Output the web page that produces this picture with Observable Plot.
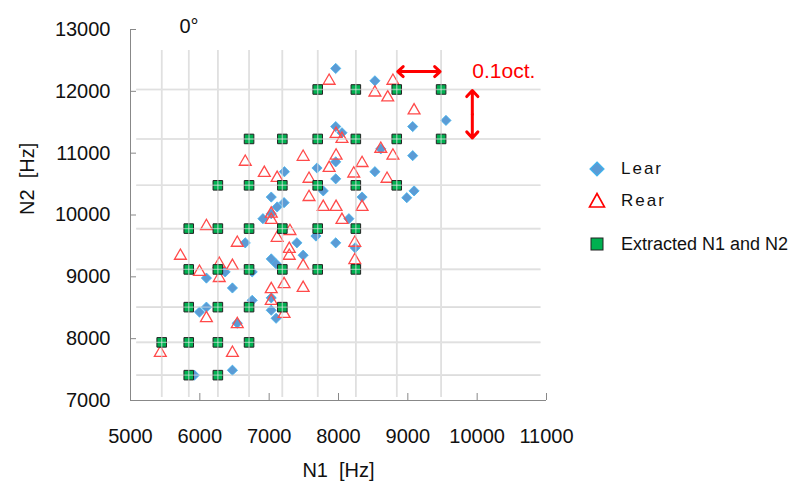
<!DOCTYPE html>
<html><head><meta charset="utf-8">
<script src="https://cdn.jsdelivr.net/npm/d3@7"></script>
<script src="https://cdn.jsdelivr.net/npm/@observablehq/plot@0.6"></script>
<style>
body{margin:0;background:#fff;}
#wrap{position:relative;width:790px;height:489px;font-family:"Liberation Sans",Arial,sans-serif;color:#111;}
.lg{position:absolute;left:589px;display:flex;align-items:center;white-space:nowrap;}
.lg svg{overflow:visible;margin-right:16px;}
</style></head><body><div id="wrap"></div>
<script>
// ---- data ----
const xTicks = [5000, 6000, 7000, 8000, 9000, 10000, 11000];
const yTicks = [7000, 8000, 9000, 10000, 11000, 12000, 13000];
// 1/10-octave grid (extracted N1 / N2 candidates)
const gridN1 = [5450, 5840, 6260, 6710, 7190, 7700, 8250, 8840, 9480];
const gridN2 = [7410, 7940, 8510, 9120, 9780, 10480, 11230, 12030];

const learN1 = [7960,8525,9550,9070,7960,8050,8610,9070,7960,7690,7220,8525,7960,7780,8340,8985,9090,7030,7215,7115,7030,6910,8150,6655,7400,7675,7960,8240,7490,7030,7100,6755,6365,6095,6470,6755,7030,7030,7100,6095,5995,6540,6470,5920];
const learN2 = [12370,12170,11530,11430,11430,11330,11070,10960,10860,10760,10700,10700,10585,10390,10290,10280,10390,10290,10200,10130,10020,9940,9940,9550,9550,9660,9550,9470,9350,9290,9210,9080,9080,8980,8820,8620,8660,8460,8330,8510,8430,8250,7490,7410];

const rearN1 = [7865,8785,8525,8710,9090,7965,8050,8610,7490,7965,8785,8340,6655,7865,6930,7115,7575,8220,8700,7575,7780,7965,8340,7030,7030,8050,6095,7300,7115,6540,8235,7290,7290,5720,8235,6280,6470,7490,5995,6280,7215,7490,7030,7030,7215,6095,6540,5430,6470];
const rearN2 = [12170,12170,11980,11900,11690,11310,11230,11070,10940,10960,10960,10840,10860,10760,10680,10600,10585,10670,10585,10290,10130,10130,10130,10020,9920,9920,9820,9740,9630,9550,9550,9450,9340,9340,9270,9210,9175,9175,9080,8980,8880,8820,8800,8610,8400,8330,8235,7770,7770];

const extractN1 = [7700,8250,8840,9480, 6710,7190,7700,8250,8840,9480, 6260,6710,7190,7700,8250,8840, 5840,6260,6710,7190,7700,8250, 5840,6260,6710,7190,7700,8250, 5840,6260,6710,7190, 5450,5840,6260,6710, 5840,6260];
const extractN2 = [12030,12030,12030,12030, 11230,11230,11230,11230,11230,11230, 10480,10480,10480,10480,10480,10480, 9780,9780,9780,9780,9780,9780, 9120,9120,9120,9120,9120,9120, 8510,8510,8510,8510, 7940,7940,7940,7940, 7410,7410];

const seriesNames = ["Lear", "Rear", "Extracted N1 and N2"];
const angleLabel = "0°";
const octLabel = "0.1oct.";
// octave-step annotation arrows (double-headed)
const arrowN1 = [8840, 9480], arrowN1At = 12320;
const arrowN2 = [12030, 11230], arrowN2At = 9930;
// grid extents
const gridTopN2 = 12660, gridBottomN2 = 7050, gridLeftN1 = 5090, gridRightN1 = 10920;

// ---- build ----
const lear = learN1.map((v, i) => ({n1: v, n2: learN2[i]}));
const rear = rearN1.map((v, i) => ({n1: v, n2: rearN2[i]}));
const extracted = extractN1.map((v, i) => ({n1: v, n2: extractN2[i]}));
const midN1 = (arrowN1[0] + arrowN1[1]) / 2;
const midN2 = (arrowN2[0] + arrowN2[1]) / 2;
const arrowLinks = [
  {x1: midN1, x2: arrowN1[0], y1: arrowN1At, y2: arrowN1At},
  {x1: midN1, x2: arrowN1[1], y1: arrowN1At, y2: arrowN1At},
  {x1: arrowN2At, x2: arrowN2At, y1: midN2, y2: arrowN2[0]},
  {x1: arrowN2At, x2: arrowN2At, y1: midN2, y2: arrowN2[1]}
];

const font = '"Liberation Sans", Arial, sans-serif';
const gridColor = "#d9d9d9";
const axisColor = "#888888";

const chart = Plot.plot({
  width: 790, height: 489,
  marginLeft: 130, marginRight: 244, marginTop: 29, marginBottom: 89,
  style: {fontFamily: font, fontSize: "20px", background: "white", color: "#111"},
  x: {domain: [5000, 11000], axis: null},
  y: {domain: [7000, 13000], axis: null},
  marks: [
    Plot.ruleX(gridN1, {x: d => d, y1: gridBottomN2, y2: gridTopN2, stroke: gridColor, strokeWidth: 1.6}),
    Plot.ruleY(gridN2, {y: d => d, x1: gridLeftN1, x2: gridRightN1, stroke: gridColor, strokeWidth: 1.6}),
    Plot.ruleX([5000], {stroke: axisColor, strokeWidth: 1}),
    Plot.ruleY([7000], {stroke: axisColor, strokeWidth: 1}),
    Plot.axisX(xTicks, {anchor: "bottom", tickSize: -7, tickPadding: 35, stroke: axisColor, fill: "#111", fontSize: 20, tickFormat: d => String(d), label: null}),
    Plot.axisY(yTicks, {anchor: "left", tickSize: -6, tickPadding: 26, stroke: axisColor, fill: "#111", fontSize: 20, tickFormat: d => String(d), label: null}),
    Plot.dot(lear, {x: "n1", y: "n2", symbol: "diamond2", r: 4.6, fill: "#5b9bd5", stroke: "#41b4ee", strokeWidth: 0.8}),
    Plot.dot(rear, {x: "n1", y: "n2", symbol: "triangle", r: 4.4, fill: "none", stroke: "#ff4a4a", strokeWidth: 1.3}),
    Plot.dot(extracted, {x: "n1", y: "n2", symbol: "square", r: 5.4, fill: "#00b050", stroke: "#222", strokeWidth: 1}),
    Plot.ruleX(gridN1, {x: d => d, y1: gridBottomN2, y2: gridTopN2, stroke: "#e6e6e6", strokeOpacity: 0.55, strokeWidth: 1.4}),
    Plot.ruleY(gridN2, {y: d => d, x1: gridLeftN1, x2: gridRightN1, stroke: "#e6e6e6", strokeOpacity: 0.55, strokeWidth: 1.4}),
    Plot.arrow(arrowLinks, {x1: "x1", x2: "x2", y1: "y1", y2: "y2", stroke: "#ff0000", strokeWidth: 3, headLength: 11, headAngle: 85, insetEnd: 1, bend: 0}),
    Plot.text([octLabel], {x: arrowN2At, y: arrowN1At, text: d => d, textAnchor: "start", fill: "#ff0000", fontSize: 21, dx: 0}),
    Plot.text([angleLabel], {frameAnchor: "top-left", text: d => d, textAnchor: "start", lineAnchor: "bottom", dx: 49, dy: 3, fontSize: 20}),
    Plot.text(["N1  [Hz]"], {frameAnchor: "bottom", text: d => d, dy: 76, fontSize: 20}),
    Plot.text(["N2  [Hz]"], {frameAnchor: "left", text: d => d, dx: -103, rotate: -90, fontSize: 20})
  ]
});
chart.querySelectorAll("text").forEach(t => t.setAttribute("xml:space", "preserve"));
const wrap = document.getElementById("wrap");
wrap.appendChild(chart);

// legend
const items = [
  {name: seriesNames[0], y: 169, svg: '<svg width="16" height="16" viewBox="-8 -8 16 16"><path d="M0,-7L7,0L0,7L-7,0Z" fill="#5b9bd5" stroke="#41b4ee" stroke-width="1.2"/></svg>', size: 17, ls: "2px"},
  {name: seriesNames[1], y: 201, svg: '<svg width="16" height="16" viewBox="-8 -8 16 16"><path d="M0,-7.5L7.5,6L-7.5,6Z" fill="white" stroke="#ff0000" stroke-width="1.6"/></svg>', size: 17, ls: "2px"},
  {name: seriesNames[2], y: 244, svg: '<svg width="16" height="16" viewBox="-8 -8 16 16"><rect x="-6" y="-6" width="12" height="12" fill="#00b050" stroke="#222" stroke-width="1"/></svg>', size: 18, ls: "0px"}
];
for (const it of items) {
  const d = document.createElement("div");
  d.className = "lg";
  d.style.top = (it.y - 10) + "px";
  d.style.height = "20px";
  d.innerHTML = it.svg + `<span style="font-size:${it.size}px;letter-spacing:${it.ls}">${it.name}</span>`;
  wrap.appendChild(d);
}
</script>
</body></html>
